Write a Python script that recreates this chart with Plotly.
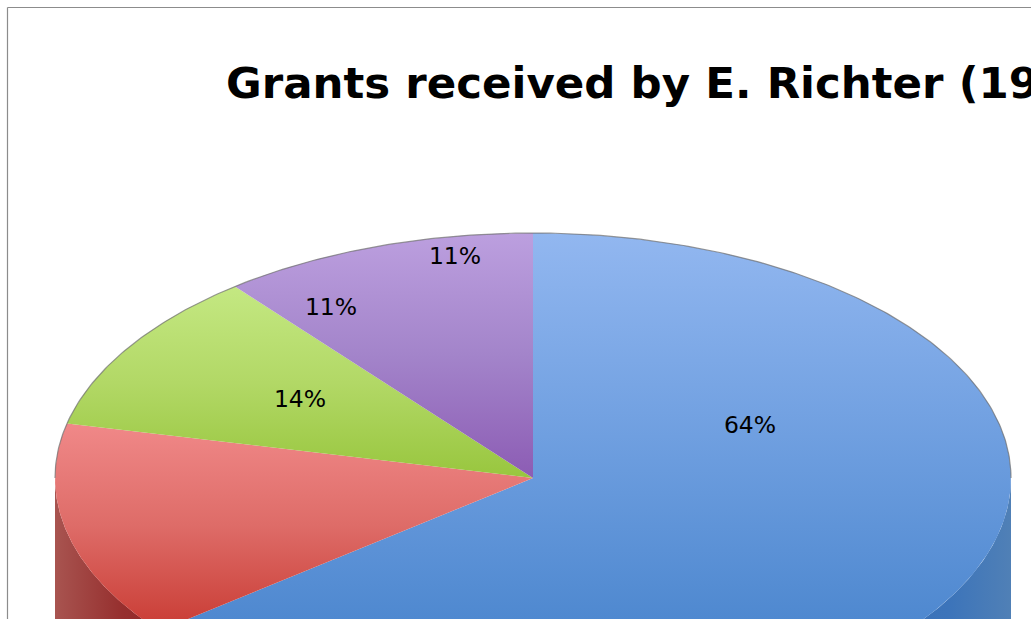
import numpy as np
import plotly.graph_objects as go

# Number of grants per funding source, clockwise from twelve o'clock
grant_counts = [18, 4, 3, 3]
slice_top_colors = [
    [[0, "#92B7F0"], [0.5, "#6F9FE0"], [1, "#4B86CE"]],
    [[0, "#F08888"], [0.5, "#DE6C68"], [1, "#CA3E36"]],
    [[0, "#C4E882"], [0.5, "#B2D866"], [1, "#98C63E"]],
    [[0, "#BC9FDF"], [0.5, "#A384CA"], [1, "#8C5CB4"]],
]
wall_colors = [
    [[0, "#3466B0"], [0.8, "#3C74BA"], [1, "#5080B6"]],
    [[0, "#A85450"], [0.5, "#962F2E"], [1, "#8C2626"]],
]
total = sum(grant_counts)
percent_labels = [f"{round(100 * v / total)}%" for v in grant_counts]
title_text = "Grants received by E. Richter (19"

# Pie geometry on the pixel-scaled axes
CX, CY, RX, RY = 533, 478, 478, 245
DEPTH = 210
label_x = [750, 300, 331, 455]
label_y = [427, 401, 309, 258]

WIDTH, HEIGHT, CLIP_RIGHT = 1034, 619, 1031


def rim(start_pct, end_pct, n=240):
    t = np.radians(np.linspace(start_pct, end_pct, n) * 3.6)
    return CX + RX * np.sin(t), CY - RY * np.cos(t)


fig = go.Figure()
edges = np.concatenate([[0], np.cumsum(grant_counts) / total * 100])

# Side walls: only the part facing the viewer (25% to 75% of the turn)
wall_spans = [(700, 1011), (55, 190)]
for i, (a, b) in enumerate(zip(edges[:2], edges[1:3])):
    lo, hi = max(a, 25), min(b, 75)
    x, y = rim(lo, hi)
    fig.add_trace(go.Scatter(
        x=np.concatenate([x, x[::-1]]), y=np.concatenate([y, y[::-1] + DEPTH]),
        mode="lines", fill="toself", line=dict(width=0),
        fillgradient=dict(type="horizontal", colorscale=wall_colors[i],
                          start=wall_spans[i][0], stop=wall_spans[i][1]),
        hoverinfo="skip", showlegend=False,
    ))

# Top faces, shaded from the back rim towards the viewer
face_ranges = [(233, 640), (425, 625), (287, 478), (233, 478)]
for (a, b), scale, (start, stop) in zip(zip(edges[:-1], edges[1:]), slice_top_colors, face_ranges):
    x, y = rim(a, b)
    fig.add_trace(go.Scatter(
        x=np.concatenate([[CX], x, [CX]]), y=np.concatenate([[CY], y, [CY]]),
        mode="lines", fill="toself", line=dict(width=0),
        fillgradient=dict(type="vertical", colorscale=scale, start=start, stop=stop),
        hoverinfo="skip", showlegend=False,
    ))

# Thin grey outline along the back rim
x, y = rim(75, 100 + 25, 300)
fig.add_trace(go.Scatter(x=x, y=y, mode="lines", line=dict(color="rgba(110,110,110,0.7)", width=1.2),
                         hoverinfo="skip", showlegend=False))

fig.add_trace(go.Scatter(
    x=label_x, y=label_y, mode="text", text=percent_labels, textposition="middle center",
    textfont=dict(family="DejaVu Sans", size=23.5, color="#000000"),
    hoverinfo="skip", showlegend=False,
))
fig.add_trace(go.Scatter(
    x=[226], y=[87], mode="text", text=[f"<b>{title_text}</b>"], textposition="middle right",
    textfont=dict(family="DejaVu Sans", size=43.5, color="#000000"),
    hoverinfo="skip", showlegend=False,
))

# Chart frame: only its top and left sides fall inside the page
fig.add_shape(type="line", x0=7.5, x1=7.5, y0=7.5, y1=HEIGHT, line=dict(color="#8C8C8C", width=1.2))
fig.add_shape(type="line", x0=7.5, x1=CLIP_RIGHT, y0=7.5, y1=7.5, line=dict(color="#8C8C8C", width=1.2))

fig.update_layout(
    width=WIDTH, height=HEIGHT, margin=dict(l=0, r=WIDTH - CLIP_RIGHT, t=0, b=0),
    paper_bgcolor="white", plot_bgcolor="white", showlegend=False,
    xaxis=dict(range=[0, CLIP_RIGHT], visible=False, fixedrange=True),
    yaxis=dict(range=[HEIGHT, 0], visible=False, fixedrange=True),
)
fig.write_html("out.html", config=dict(displayModeBar=False))
